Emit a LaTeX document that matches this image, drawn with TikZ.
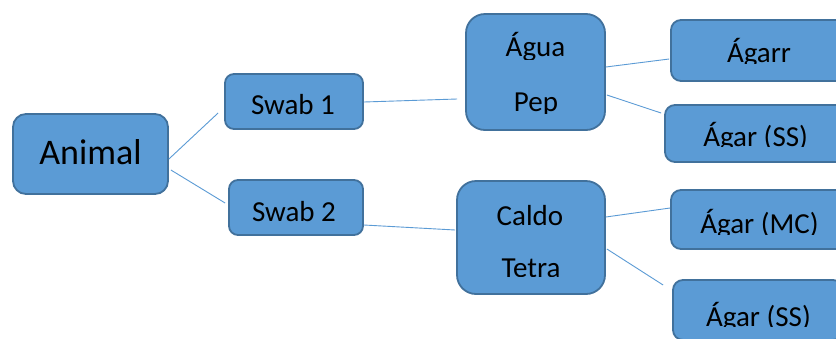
\documentclass[tikz,border=0pt]{standalone}
\usepackage{fontspec}
\setmainfont{Carlito}
\usetikzlibrary{calc}
\definecolor{boxfill}{HTML}{5B9BD5}
\definecolor{boxborder}{HTML}{41719C}
\definecolor{linkcol}{HTML}{5B9BD5}
\tikzset{
  box/.style={draw=boxborder, fill=boxfill, line width=1.8pt, inner sep=0pt, rectangle},
  lbl/.style={inner sep=0pt, text=black, font=\fontsize{29}{34}\selectfont},
  biglbl/.style={inner sep=0pt, text=black, font=\fontsize{36}{42}\selectfont},
  link/.style={draw=linkcol, line width=0.9pt}
}
\newcommand{\cliplabel}[6]{%
  \begin{scope}
    \clip (#2-120,#3-60) rectangle (#2+120,#4);
    \node[#6,anchor=base] (#1) at (#2,#3) {#5};
  \end{scope}}
\begin{document}
\begin{tikzpicture}[x=1pt,y=-1pt]
\useasboundingbox (0,0) rectangle (836,338);
\fill[white] (0,0) rectangle (836,338);
\clip (0,0) rectangle (836,338);
% boxes
\node[box, minimum width=155pt, minimum height=80pt, rounded corners=13pt] (animal) at (90.5,154) {};
\node[box, minimum width=138pt, minimum height=55pt, rounded corners=9pt] (swab1) at (294,101.5) {};
\node[box, minimum width=134pt, minimum height=55pt, rounded corners=9pt] (swab2) at (296,207.5) {};
\node[box, minimum width=139pt, minimum height=116pt, rounded corners=19pt] (agua) at (535.5,72) {};
\node[box, minimum width=148pt, minimum height=113pt, rounded corners=19pt] (caldo) at (531,237.5) {};
\node[box, minimum width=176pt, minimum height=61pt, rounded corners=10pt] (agarr) at (759,50.5) {};
\node[box, minimum width=181pt, minimum height=57pt, rounded corners=10pt] (agarssA) at (755.5,133.5) {};
\node[box, minimum width=178pt, minimum height=59pt, rounded corners=10pt] (agarmc) at (760,219.5) {};
\node[box, minimum width=170pt, minimum height=60pt, rounded corners=10pt] (agarssB) at (758,310) {};
% connectors
\draw[link] ($(animal.east)+(0,5)$) -- ($(swab1.west)+(-6,11.5)$);
\draw[link] ($(animal.east)+(2,16)$) -- ($(swab2.west)+(-3,-4.5)$);
\draw[link] ($(swab1.east)+(0,0.5)$) -- ($(agua.west)+(-8,27)$);
\draw[link] ($(swab2.east)+(0,17.5)$) -- ($(caldo.west)+(-1,-7.5)$);
\draw[link] ($(agua.east)+(0,-5)$) -- ($(agarr.west)+(-1,8.5)$);
\draw[link] ($(agua.east)+(1,23)$) -- ($(agarssA.west)+(-3,-20.5)$);
\draw[link] ($(caldo.east)+(0,-20.5)$) -- ($(agarmc.west)+(0,-11.5)$);
\draw[link] ($(caldo.east)+(1,11.5)$) -- ($(agarssB.west)+(-9,-25)$);
% labels
\cliplabel{tAnimal}{90.5}{164}{180}{Animal}{biglbl}
\cliplabel{tSwab1}{293}{114}{130}{Swab 1}{lbl}
\cliplabel{tSwab2}{294}{221}{240}{Swab 2}{lbl}
\cliplabel{tAgua}{535.5}{56.7}{59}{Água}{lbl}
\cliplabel{tPep}{536}{111.5}{113.3}{Pep}{lbl}
\cliplabel{tCaldo}{530}{225}{240}{Caldo}{lbl}
\cliplabel{tTetra}{531}{277.5}{276.7}{Tetra}{lbl}
\cliplabel{tAgarr}{759}{62}{63.5}{Ágarr}{lbl}
\cliplabel{tAgarSSA}{755.6}{146}{146.7}{Ágar (SS)}{lbl}
\cliplabel{tAgarMC}{759.5}{233.5}{234.5}{Ágar (MC)}{lbl}
\cliplabel{tAgarSSB}{758.5}{326}{326.7}{Ágar (SS)}{lbl}
\end{tikzpicture}
\end{document}
